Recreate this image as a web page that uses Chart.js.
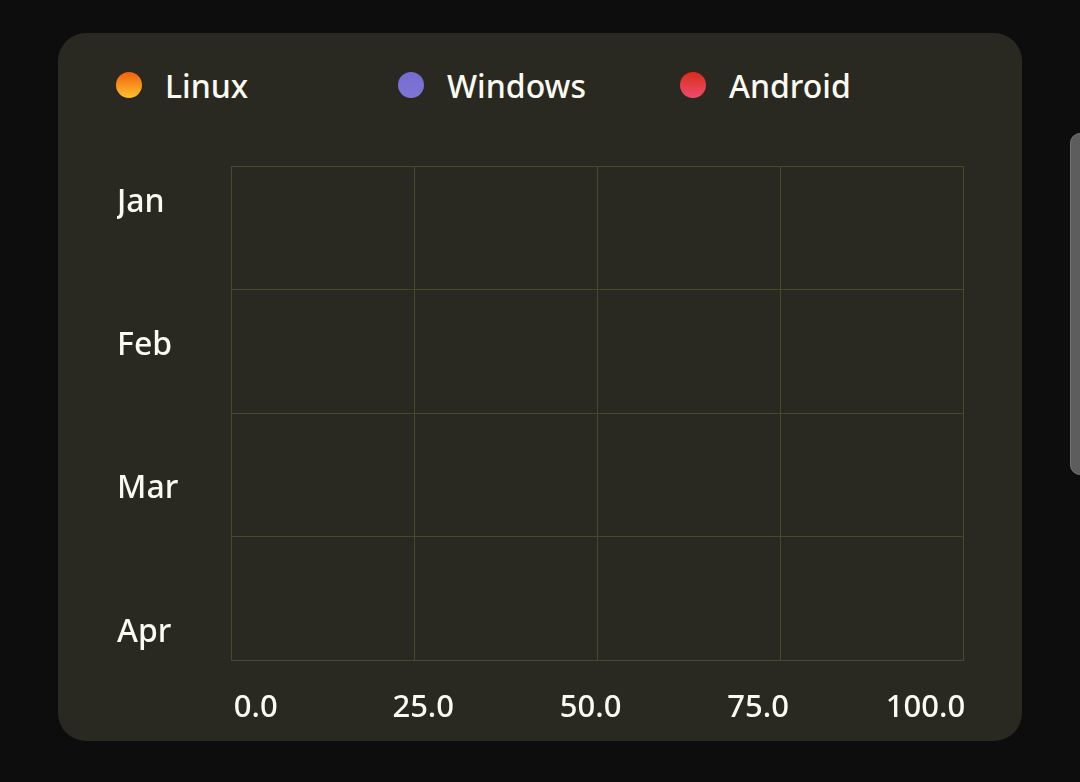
<!DOCTYPE html>
<html>
<head>
<meta charset="utf-8">
<script src="https://cdn.jsdelivr.net/npm/chart.js@4/dist/chart.umd.min.js"></script>
<style>
  html, body { margin: 0; padding: 0; width: 1080px; height: 782px; overflow: hidden; background: #0d0d0e; font-family: 'Noto Sans', sans-serif; }
  #card { position: absolute; left: 58px; top: 33px; width: 964px; height: 708px; border-radius: 28px; background: #2a2921; }
  #legend { position: absolute; left: 58px; top: 33px; height: 38px; display: flex; align-items: center; margin: 0; padding: 0; list-style: none; }
  #legend li { width: 282px; display: flex; align-items: center; color: #fbfaf0; font-size: 32px; font-weight: 500; }
  #legend .dot { width: 26px; height: 26px; border-radius: 50%; margin-right: 23px; flex: none; }
  #wrap { position: absolute; left: 0; top: 87px; width: 964px; height: 621px; }
  #scroll { position: absolute; left: 1070px; top: 133px; width: 24px; height: 342px; border-radius: 10px; background: #5d5d5d; border: 1px solid #747474; box-sizing: border-box; }
</style>
</head>
<body>
<div id="card">
  <ul id="legend"></ul>
  <div id="wrap"><canvas id="c" width="964" height="621"></canvas></div>
</div>
<div id="scroll"></div>
<script>
// ---- data ----
const categories = ['Jan', 'Feb', 'Mar', 'Apr'];
const seriesNames = ['Linux', 'Windows', 'Android'];
const linuxValues = [0, 0, 0, 0];
const windowsValues = [0, 0, 0, 0];
const androidValues = [0, 0, 0, 0];
const xTickValues = [0, 25, 50, 75, 100];

// ---- styles ----
const gradTop = ['#f0600e', '#766cd2', '#d62e1a'];
const gradBottom = ['#ffc22c', '#7d76d4', '#f24a6c'];
const textColor = '#fbfaf0';
const gridColor = '#4a4930';
const labelFont = { family: "'Noto Sans', sans-serif", size: 32, weight: '500' };
const xLabelFont = { family: "'Noto Sans', sans-serif", size: 31, weight: '500' };

function barGradient(i) {
  return (ctx) => {
    const area = ctx.chart.chartArea;
    if (!area) return gradTop[i];
    const g = ctx.chart.ctx.createLinearGradient(0, area.top, 0, area.bottom);
    g.addColorStop(0, gradTop[i]);
    g.addColorStop(1, gradBottom[i]);
    return g;
  };
}

const seriesValues = [linuxValues, windowsValues, androidValues];

const htmlLegend = {
  id: 'htmlLegend',
  afterUpdate(chart) {
    const ul = document.getElementById('legend');
    ul.innerHTML = '';
    chart.data.datasets.forEach((ds, i) => {
      const li = document.createElement('li');
      const dot = document.createElement('span');
      dot.className = 'dot';
      dot.style.background = 'linear-gradient(to bottom, ' + gradTop[i] + ', ' + gradBottom[i] + ')';
      const txt = document.createElement('span');
      txt.textContent = ds.label;
      li.appendChild(dot);
      li.appendChild(txt);
      ul.appendChild(li);
    });
  }
};

new Chart(document.getElementById('c'), {
  type: 'bar',
  data: {
    labels: categories,
    datasets: seriesNames.map((name, i) => ({
      label: name,
      data: seriesValues[i],
      backgroundColor: barGradient(i),
      borderWidth: 0,
      xAxisID: 'x',
      yAxisID: 'y'
    }))
  },
  options: {
    indexAxis: 'y',
    responsive: false,
    animation: false,
    devicePixelRatio: 1,
    layout: { padding: { left: 59, right: 59, top: 46, bottom: 0 } },
    plugins: { legend: { display: false }, tooltip: { enabled: false } },
    scales: {
      x: {
        type: 'linear', position: 'bottom', min: 0, max: 100, weight: 0,
        afterBuildTicks: (s) => { s.ticks = xTickValues.map(v => ({ value: v })); },
        ticks: { display: false },
        grid: { color: gridColor, drawTicks: false, lineWidth: 1 },
        border: { color: gridColor }
      },
      x2: {
        type: 'linear', position: 'bottom', min: -3.7, max: 105.6, weight: 1, offset: false,
        afterBuildTicks: (s) => { s.ticks = xTickValues.map(v => ({ value: v })); },
        afterFit: (s) => { s.height = 81; },
        ticks: { color: textColor, font: xLabelFont, padding: 30, maxRotation: 0, autoSkip: false,
                 callback: (v) => Number(v).toFixed(1) },
        grid: { display: false, drawTicks: false },
        border: { display: false }
      },
      y: {
        type: 'category', position: 'left', offset: true, weight: 0,
        ticks: { display: false },
        grid: { color: gridColor, drawTicks: false, offset: true },
        border: { color: gridColor }
      },
      y2: {
        type: 'linear', position: 'left', reverse: true, offset: false, beginAtZero: false,
        min: -0.2546, max: 3.1919, weight: 1,
        afterBuildTicks: (s) => { s.ticks = categories.map((_, i) => ({ value: i })); },
        afterFit: (s) => { s.width = 114; },
        ticks: { color: textColor, font: labelFont, crossAlign: 'far', padding: 0, autoSkip: false,
                 callback: (v) => categories[v] },
        grid: { display: false, drawTicks: false, offset: false },
        border: { display: false }
      }
    }
  },
  plugins: [htmlLegend]
});
</script>
</body>
</html>
